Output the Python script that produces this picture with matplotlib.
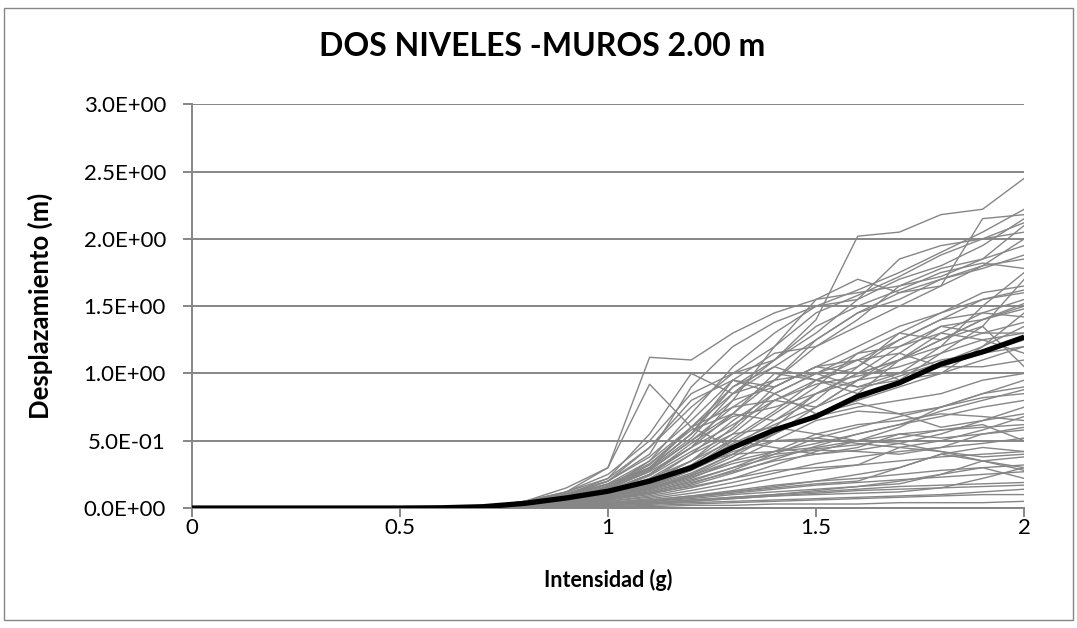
import matplotlib
matplotlib.use('Agg')
import matplotlib.pyplot as plt
from matplotlib.patches import Rectangle
from matplotlib.ticker import FuncFormatter

plt.rcParams['font.family'] = ['Lato', 'DejaVu Sans']

# Intensidad para la curva media (paso de 0.1 g)
intensidad_media = [0.0, 0.1, 0.2, 0.3, 0.4, 0.5, 0.6, 0.7, 0.8, 0.9, 1.0,
                    1.1, 1.2, 1.3, 1.4, 1.5, 1.6, 1.7, 1.8, 1.9, 2.0]
desplazamiento_medio = [0.0, 0.0, 0.0, 0.0, 0.0, 0.0, 0.002, 0.01, 0.035, 0.075, 0.125,
                        0.2, 0.3, 0.45, 0.58, 0.68, 0.83, 0.93, 1.07, 1.16, 1.27]

# Intensidad para los registros individuales (antes de 0.6 g todo es ~0)
intensidad_registros = [0.0, 0.6, 0.7, 0.8, 0.9, 1.0, 1.1, 1.2, 1.3, 1.4, 1.5, 1.6, 1.7, 1.8, 1.9, 2.0]

# Registros con desplazamientos grandes
registros_altos = [
    [0, 0, .01, .04, .10, .18, .30, .55, .90, 1.10, 1.40, 2.02, 2.05, 2.18, 2.22, 2.45],
    [0, 0, .01, .05, .15, .30, 1.12, 1.10, 1.30, 1.45, 1.55, 1.60, 1.65, 1.72, 1.85, 2.10],
    [0, 0, .01, .03, .08, .15, .35, .70, 1.05, 1.30, 1.50, 1.62, 1.75, 1.90, 2.05, 2.22],
    [0, 0, .01, .04, .12, .25, .50, .85, 1.00, 1.20, 1.55, 1.70, 1.60, 1.65, 2.15, 2.18],
    [0, 0, .00, .02, .06, .12, .25, .45, .80, 1.20, 1.45, 1.58, 1.72, 1.88, 2.00, 2.12],
    [0, 0, .01, .03, .09, .20, .40, .90, 1.20, 1.38, 1.50, 1.55, 1.85, 1.95, 2.00, 2.05],
    [0, 0, .01, .03, .07, .15, .30, .60, .75, .95, 1.20, 1.40, 1.65, 1.78, 1.85, 1.95],
    [0, 0, .01, .05, .12, .22, .45, .75, 1.00, 1.10, 1.30, 1.55, 1.70, 1.80, 1.95, 2.15],
    [0, 0, .00, .02, .06, .14, .28, .50, .70, .95, 1.25, 1.45, 1.55, 1.70, 1.80, 1.85],
    [0, 0, .01, .04, .10, .22, .55, 1.00, .85, 1.10, 1.35, 1.50, 1.62, 1.75, 1.82, 1.78],
    [0, 0, .01, .03, .08, .16, .32, .60, .85, 1.05, 1.25, 1.45, 1.60, 1.70, 1.78, 1.88],
    [0, 0, .01, .04, .11, .20, .38, .65, .95, 1.15, 1.20, 1.35, 1.50, 1.65, 1.80, 2.00],
]

# Registros con desplazamientos intermedios
registros_medios = [
    [0, 0, .01, .05, .12, .30, .92, .60, .45, .55, .70, .80, .90, 1.00, 1.10, 1.20],
    [0, 0, .01, .03, .08, .15, .30, .55, .80, .90, 1.05, 1.20, 1.35, 1.45, 1.55, 1.60],
    [0, 0, .01, .03, .07, .13, .25, .45, .70, 1.00, .95, .85, 1.10, 1.30, 1.45, 1.55],
    [0, 0, .00, .02, .05, .10, .20, .40, .65, .85, 1.00, 1.15, 1.20, 1.35, 1.40, 1.50],
    [0, 0, .01, .04, .10, .20, .45, .80, .95, .90, 1.05, 1.00, 1.10, 1.25, 1.40, 1.48],
    [0, 0, .01, .03, .06, .12, .22, .35, .55, .80, .95, 1.05, 1.25, 1.40, 1.45, 1.42],
    [0, 0, .01, .02, .05, .10, .18, .30, .50, .70, .90, 1.15, 1.30, 1.25, 1.35, 1.70],
    [0, 0, .01, .03, .09, .18, .35, .60, .90, 1.05, .95, .90, 1.00, 1.20, 1.50, 1.75],
    [0, 0, .00, .02, .05, .09, .16, .28, .45, .65, .85, 1.00, 1.10, 1.20, 1.30, 1.38],
    [0, 0, .01, .03, .07, .14, .28, .50, .75, .80, .75, .95, 1.15, 1.35, 1.30, 1.30],
    [0, 0, .01, .03, .08, .16, .30, .55, .95, .85, .70, .80, .95, 1.05, 1.15, 1.25],
    [0, 0, .00, .02, .04, .08, .15, .25, .40, .60, .85, .95, 1.00, 1.10, 1.15, 1.20],
    [0, 0, .01, .02, .06, .11, .20, .35, .60, .90, 1.05, 1.10, .95, 1.00, 1.20, 1.45],
    [0, 0, .01, .03, .07, .13, .25, .48, .68, .75, .85, 1.00, 1.20, 1.30, 1.25, 1.15],
    [0, 0, .00, .02, .05, .10, .19, .32, .52, .72, .95, 1.10, 1.15, 1.05, 1.05, 1.10],
    [0, 0, .01, .04, .09, .17, .33, .58, .70, .65, .80, 1.05, 1.30, 1.45, 1.60, 1.65],
    [0, 0, .01, .02, .05, .09, .17, .30, .48, .62, .75, .88, .98, 1.08, 1.20, 1.35],
    [0, 0, .01, .03, .06, .12, .24, .42, .58, .85, 1.00, .90, .95, 1.15, 1.35, 1.05],
    [0, 0, .00, .02, .04, .08, .14, .24, .38, .55, .75, .95, 1.10, 1.25, 1.40, 1.52],
    [0, 0, .01, .03, .07, .14, .27, .45, .62, .80, .92, .98, 1.05, 1.15, 1.25, 1.30],
    [0, 0, .01, .03, .08, .15, .29, .52, .85, .95, 1.00, 1.10, 1.25, 1.40, 1.55, 1.62],
]

# Registros con desplazamientos moderados
registros_moderados = [
    [0, 0, .01, .02, .05, .10, .18, .30, .45, .58, .68, .75, .80, .85, .95, 1.00],
    [0, 0, .00, .02, .04, .08, .14, .22, .35, .50, .65, .72, .70, .75, .85, .95],
    [0, 0, .01, .03, .06, .12, .22, .40, .55, .60, .55, .50, .60, .75, .85, .90],
    [0, 0, .00, .01, .03, .06, .11, .18, .28, .40, .52, .60, .68, .75, .82, .85],
    [0, 0, .01, .02, .05, .09, .16, .26, .40, .55, .70, .78, .70, .60, .65, .70],
    [0, 0, .00, .02, .04, .07, .12, .20, .30, .42, .55, .62, .65, .70, .68, .65],
    [0, 0, .01, .02, .05, .10, .19, .35, .50, .45, .40, .45, .55, .58, .60, .62],
    [0, 0, .00, .01, .03, .05, .09, .15, .22, .32, .42, .50, .55, .52, .55, .58],
    [0, 0, .01, .02, .05, .09, .17, .28, .42, .50, .52, .48, .45, .50, .58, .68],
    [0, 0, .00, .01, .03, .06, .10, .17, .26, .36, .46, .55, .62, .68, .75, .80],
    [0, 0, .01, .03, .06, .11, .20, .32, .40, .42, .45, .50, .48, .42, .38, .40],
    [0, 0, .00, .02, .04, .07, .13, .21, .30, .38, .44, .47, .52, .58, .62, .50],
    [0, 0, .01, .02, .04, .08, .14, .23, .33, .40, .43, .42, .40, .45, .55, .60],
    [0, 0, .00, .01, .03, .05, .08, .13, .19, .26, .33, .38, .42, .45, .48, .52],
    [0, 0, .01, .02, .05, .09, .15, .24, .35, .42, .48, .55, .62, .72, .80, .88],
    [0, 0, .00, .02, .04, .07, .12, .19, .27, .35, .40, .43, .48, .55, .65, .75],
]

# Registros con desplazamientos pequeños
registros_bajos = [
    [0, 0, .00, .01, .02, .04, .07, .11, .16, .22, .28, .32, .35, .38, .40, .42],
    [0, 0, .00, .01, .02, .04, .06, .09, .13, .17, .20, .22, .25, .28, .30, .32],
    [0, 0, .00, .01, .02, .03, .05, .08, .11, .14, .17, .19, .21, .23, .25, .27],
    [0, 0, .00, .01, .02, .03, .05, .07, .10, .12, .14, .16, .18, .25, .35, .30],
    [0, 0, .00, .01, .01, .02, .04, .06, .08, .10, .12, .14, .16, .17, .18, .19],
    [0, 0, .00, .00, .01, .02, .03, .05, .07, .09, .11, .13, .14, .15, .16, .17],
    [0, 0, .00, .00, .01, .01, .02, .03, .04, .05, .06, .07, .08, .09, .10, .10],
    [0, 0, .00, .00, .00, .01, .01, .02, .02, .03, .03, .03, .04, .04, .04, .05],
    [0, 0, .00, .01, .02, .04, .06, .09, .12, .15, .18, .20, .30, .40, .35, .28],
    [0, 0, .00, .01, .02, .03, .05, .08, .12, .16, .20, .25, .30, .40, .45, .42],
    [0, 0, .00, .01, .01, .02, .03, .05, .07, .09, .10, .11, .12, .15, .22, .30],
    [0, 0, .00, .00, .01, .02, .03, .04, .05, .06, .07, .08, .09, .10, .12, .14],
    [0, 0, .01, .02, .04, .07, .11, .16, .22, .28, .30, .32, .45, .42, .35, .38],
    [0, 0, .00, .01, .02, .03, .04, .06, .08, .10, .13, .16, .20, .25, .30, .22],
]

gris = '#868686'

fig = plt.figure(figsize=(10.77, 6.28), dpi=100)
ax = fig.add_axes([0.178, 0.191, 0.773, 0.643])

# Curvas de cada registro en gris
for grupo in [registros_altos, registros_medios, registros_moderados, registros_bajos]:
    for registro in grupo:
        ax.plot(intensidad_registros, registro, color=gris, linewidth=1.0, zorder=3)

# Curva media en negro, más gruesa
ax.plot(intensidad_media, desplazamiento_medio, color='black', linewidth=3.8,
        solid_capstyle='butt', zorder=4)

ax.set_xlim(0, 2)
ax.set_ylim(0, 3.0)
ax.set_xticks([0, 0.5, 1, 1.5, 2])
ax.set_xticklabels(['0', '0.5', '1', '1.5', '2'])
ax.set_yticks([0, 0.5, 1.0, 1.5, 2.0, 2.5, 3.0])
ax.yaxis.set_major_formatter(FuncFormatter(lambda v, p: '%.1E' % v))

ax.grid(axis='y', color=gris, linewidth=1.4, zorder=0)
ax.set_axisbelow(True)
for lado in ['top', 'right']:
    ax.spines[lado].set_visible(False)
for lado in ['left', 'bottom']:
    ax.spines[lado].set_color(gris)
    ax.spines[lado].set_linewidth(1.4)
ax.tick_params(axis='both', direction='out', length=6.5, width=1.4, color=gris,
               labelsize=16, labelcolor='black')
ax.tick_params(axis='x', pad=1)
ax.tick_params(axis='y', pad=12)

ax.set_xlabel('Intensidad (g)', fontsize=15.5, fontweight='bold', labelpad=22)
ax.set_ylabel('Desplazamiento (m)', fontsize=18.5, fontweight='bold', labelpad=22)

fig.text(0.503, 0.926, 'DOS NIVELES -MUROS 2.00 m', fontsize=23, fontweight='bold',
         ha='center', va='center')

# Marco del área del gráfico
fig.patches.append(Rectangle((0.004, 0.012), 0.992, 0.976, transform=fig.transFigure,
                             fill=False, edgecolor=gris, linewidth=1.0))

plt.savefig('out.png', dpi=100)
